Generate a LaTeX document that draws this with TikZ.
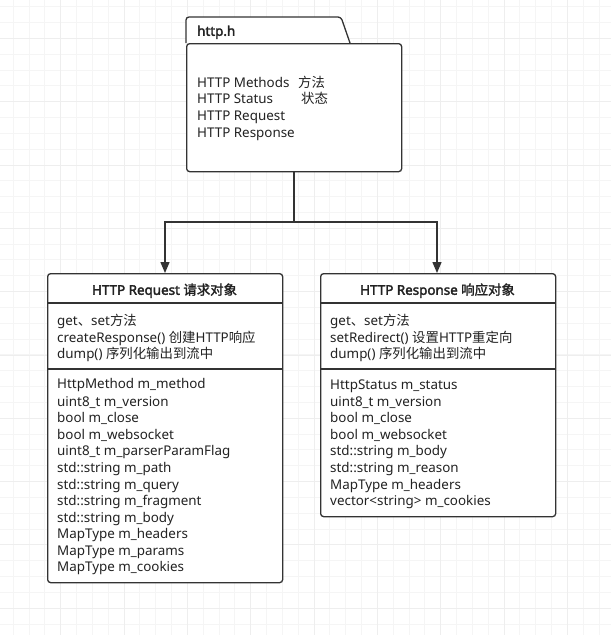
\documentclass[tikz,border=0pt]{standalone}
\usepackage{fontspec}
\setmainfont{Noto Sans}
\newfontfamily\cjk{Noto Sans CJK SC}
\newfontfamily\hdrfont{Noto Sans}[FakeBold=2.5]
\newfontfamily\hdrcjk{Noto Sans CJK SC}[FakeBold=1.5]
\usetikzlibrary{arrows.meta}
\definecolor{ln}{HTML}{333333}
\definecolor{tx}{HTML}{222222}
\definecolor{gridminor}{HTML}{F5F5F5}
\definecolor{gridmajor}{HTML}{EEEEEE}
\begin{document}
\begin{tikzpicture}[x=1pt,y=-1pt,
  boxline/.style={draw=ln,line width=1.3pt,rounded corners=3pt},
  sepline/.style={draw=ln,line width=1.3pt},
  txt/.style={anchor=west,inner sep=0pt,text=tx,font=\fontsize{13.4}{15}\selectfont,text height=9.5pt,text depth=0pt},
  hdr/.style={anchor=center,inner sep=0pt,text=tx,font=\fontsize{13.4}{15}\selectfont\hdrfont,text height=9.5pt,text depth=0pt},
  conn/.style={draw=ln,line width=1.3pt},
  tip/.style={-{Triangle[length=11pt,width=9pt]}}]
\useasboundingbox (0,0) rectangle (611,635);
\fill[white] (0,0) rectangle (611,635);
% grid
\foreach \i in {0,...,38} {
  \pgfmathsetmacro\gx{13.3+15.83*\i}
  \draw[gridminor,line width=1pt] (\gx,0) -- (\gx,635);
}
\foreach \i in {0,...,40} {
  \pgfmathsetmacro\gy{6.7+15.83*\i}
  \draw[gridminor,line width=1pt] (0,\gy) -- (611,\gy);
}
\foreach \i in {0,...,9} {
  \pgfmathsetmacro\gx{60.8+63.32*\i}
  \draw[gridmajor,line width=1pt] (\gx,0) -- (\gx,635);
}
\foreach \i in {0,...,9} {
  \pgfmathsetmacro\gy{38.4+63.32*\i}
  \draw[gridmajor,line width=1pt] (0,\gy) -- (611,\gy);
}
% package
\filldraw[fill=white,draw=ln,line width=1.3pt,rounded corners=3pt] (186,43) -- (186,17) -- (341,17) -- (350,43);
\node[boxline,fill=white,minimum width=215pt,minimum height=128pt,anchor=north west,inner sep=0pt] (pkg) at (186,43) {};
\node[hdr,anchor=west] (pkgname) at (197,31) {http.h};
\node[txt] (p1) at (197,83) {HTTP Methods};
\node[txt] (p1c) at (298,83) {\cjk 方法};
\node[txt] (p2) at (197,99) {HTTP Status};
\node[txt] (p2c) at (301,99) {\cjk 状态};
\node[txt] (p3) at (197,116) {HTTP Request};
\node[txt] (p4) at (197,133) {HTTP Response};
% left class
\node[boxline,fill=white,minimum width=235pt,minimum height=309pt,anchor=north west,inner sep=0pt] (req) at (47,273) {};
\draw[sepline] (47,303) -- (282,303);
\draw[sepline] (47,369) -- (282,369);
\node[hdr] (reqh) at (164.5,290) {HTTP Request {\hdrcjk 请求对象}};
\node[txt] (rm1) at (57,321) {get{\cjk 、}set{\cjk 方法}};
\node[txt] (rm2) at (57,338) {createResponse() {\cjk 创建}HTTP{\cjk 响应}};
\node[txt] (rm3) at (57,354) {dump() {\cjk 序列化输出到流中}};
\node[txt] (ra1) at (57,384) {HttpMethod m\_method};
\node[txt] (ra2) at (57,401.5) {uint8\_t m\_version};
\node[txt] (ra3) at (57,418) {bool m\_close};
\node[txt] (ra4) at (57,434.5) {bool m\_websocket};
\node[txt] (ra5) at (57,451) {uint8\_t m\_parserParamFlag};
\node[txt] (ra6) at (57,468) {std::string m\_path};
\node[txt] (ra7) at (57,485) {std::string m\_query};
\node[txt] (ra8) at (57,501) {std::string m\_fragment};
\node[txt] (ra9) at (57,517.5) {std::string m\_body};
\node[txt] (ra10) at (57,534) {MapType m\_headers};
\node[txt] (ra11) at (57,551) {MapType m\_params};
\node[txt] (ra12) at (57,567) {MapType m\_cookies};
% right class
\node[boxline,fill=white,minimum width=235pt,minimum height=243pt,anchor=north west,inner sep=0pt] (resp) at (320,273) {};
\draw[sepline] (320,303) -- (555,303);
\draw[sepline] (320,369) -- (555,369);
\node[hdr] (resph) at (437.5,290) {HTTP Response {\hdrcjk 响应对象}};
\node[txt] (sm1) at (330,321) {get{\cjk 、}set{\cjk 方法}};
\node[txt] (sm2) at (330,338) {setRedirect() {\cjk 设置}HTTP{\cjk 重定向}};
\node[txt] (sm3) at (330,354) {dump() {\cjk 序列化输出到流中}};
\node[txt] (sa1) at (330,384.5) {HttpStatus m\_status};
\node[txt] (sa2) at (330,401.5) {uint8\_t m\_version};
\node[txt] (sa3) at (330,418) {bool m\_close};
\node[txt] (sa4) at (330,434.5) {bool m\_websocket};
\node[txt] (sa5) at (330,451) {std::string m\_body};
\node[txt] (sa6) at (330,468) {std::string m\_reason};
\node[txt] (sa7) at (330,485) {MapType m\_headers};
\node[txt] (sa8) at (330,501) {vector<string> m\_cookies};
% connectors
\coordinate (split) at (294,222);
\draw[conn] (pkg.south -| split) -- (split);
\draw[conn,tip] (split) -| (req.north -| 165,0);
\draw[conn,tip] (split) -| (resp.north -| 437,0);
\end{tikzpicture}
\end{document}
